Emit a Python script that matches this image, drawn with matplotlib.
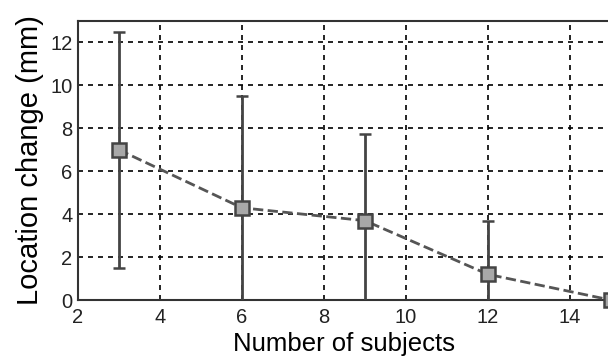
import numpy as np
import matplotlib.pyplot as plt

plt.rcParams['font.family'] = ['Liberation Sans', 'DejaVu Sans']

subjects = [3, 6, 9, 12, 15]
change = [7.0, 4.3, 3.7, 1.2, 0.0]
err = [5.5, 5.2, 4.05, 2.5, 0.0]

fig = plt.figure(figsize=(6.08, 3.62), dpi=100)
ax = fig.add_axes([0.128, 0.171, 0.877, 0.771])

ax.errorbar(subjects, change, yerr=err, fmt='none', ecolor='#444444',
            elinewidth=2, capsize=4, capthick=1.8, zorder=3)
ax.plot(subjects, change, linestyle='--', color='#555555', linewidth=2,
        marker='s', markersize=10, markerfacecolor='#a8a8a8',
        markeredgecolor='#444444', markeredgewidth=1.8, zorder=4, clip_on=False)

ax.set_xlim(2, 15)
ax.set_ylim(0, 13)
ax.set_xticks(np.arange(2, 15, 2))
ax.set_yticks(np.arange(0, 13, 2))
ax.grid(True, linestyle=(0, (3, 3)), color='black', linewidth=1.2)
ax.set_axisbelow(True)
for s in ax.spines.values():
    s.set_color('#333333')
    s.set_linewidth(1.5)
ax.tick_params(direction='in', length=0, labelsize=14.5, colors='#222222')
ax.tick_params(axis='x', pad=6)
ax.tick_params(axis='y', pad=4)

ax.set_xlabel('Number of subjects', fontsize=18.5, labelpad=3)
ax.set_ylabel('Location change (mm)', fontsize=21, labelpad=4)

fig.savefig('out.png', dpi=100)
